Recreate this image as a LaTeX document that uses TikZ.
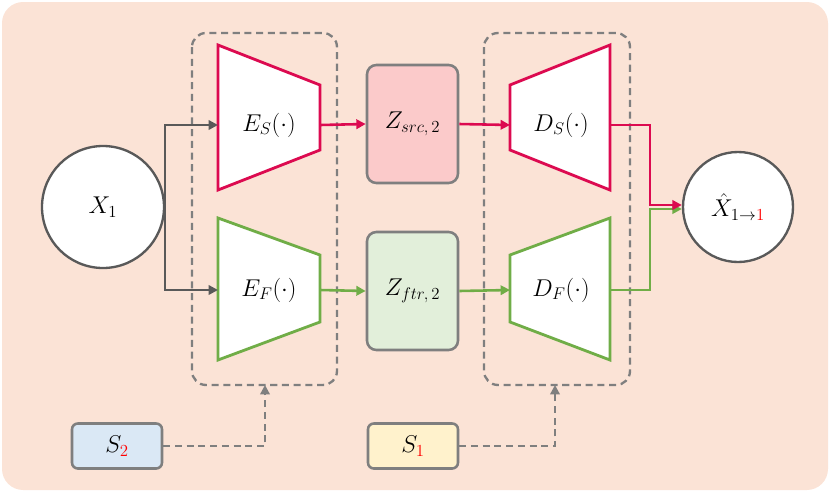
\documentclass[tikz,border=0pt]{standalone}
\usepackage{xcolor}
\usetikzlibrary{arrows.meta}
\definecolor{bg}{HTML}{FBE3D6}
\definecolor{rd}{HTML}{DC0A50}
\definecolor{gn}{HTML}{70AD47}
\definecolor{gr}{HTML}{7F7F7F}
\definecolor{dk}{HTML}{595959}
\definecolor{zsf}{HTML}{FBCACA}
\definecolor{zff}{HTML}{E2EFDA}
\definecolor{s2f}{HTML}{DAE8F5}
\definecolor{s1f}{HTML}{FFF2CC}
\begin{document}
\begin{tikzpicture}[x=0.03cm,y=-0.03cm,
  bigf/.style={font=\fontsize{22}{26}\selectfont},
  circ/.style={circle,draw=dk,line width=2pt,fill=white,minimum size=#1*0.06cm,inner sep=0pt,bigf},
  zbox/.style={draw=gr,line width=2.2pt,rounded corners=8pt,bigf},
  dbox/.style={draw=gr,line width=2pt,dashed,dash pattern=on 6pt off 4pt,rounded corners=12pt},
  trap/.style={line width=2.4pt,fill=white},
  arr/.style={line width=2.2pt,-{Triangle[length=8pt,width=8pt]}},
  sarr/.style={line width=2.2pt,gr,dash pattern=on 6pt off 4pt,-{Triangle[length=8pt,width=8pt]}},
  sbox/.style={draw=gr,line width=2.2pt,rounded corners=5pt,minimum width=90*0.03cm,minimum height=45*0.03cm,bigf}]
\useasboundingbox (0,0) rectangle (830,492);
\fill[bg,rounded corners=18pt] (2,2) rectangle (828,490);
\draw[dbox] (192,33) rectangle (337,385);
\draw[dbox] (484,33) rectangle (630,385);
\coordinate (lb) at (265,385); \coordinate (rb) at (555,385);
% trapezoids
\draw[trap,draw=rd] (218,45) -- (320,85) -- (320,150) -- (218,190) -- cycle;
\node[bigf] (es) at (269,125) {$E_S(\cdot)$};
\draw[trap,draw=gn] (218,218) -- (320,255) -- (320,322) -- (218,360) -- cycle;
\node[bigf] (ef) at (269,290) {$E_F(\cdot)$};
\draw[trap,draw=rd] (510,85) -- (610,45) -- (610,190) -- (510,150) -- cycle;
\node[bigf] (ds) at (561,125) {$D_S(\cdot)$};
\draw[trap,draw=gn] (510,255) -- (610,218) -- (610,360) -- (510,322) -- cycle;
\node[bigf] (df) at (561,290) {$D_F(\cdot)$};
\coordinate (esr) at (320,125); \coordinate (esl) at (218,125);
\coordinate (efr) at (320,290); \coordinate (efl) at (218,290);
\coordinate (dsl) at (510,125); \coordinate (dsr) at (610,125);
\coordinate (dfl) at (510,290); \coordinate (dfr) at (610,290);
% z boxes
\node[zbox,fill=zsf,minimum width=91*0.03cm,minimum height=118*0.03cm] (zs) at (412.5,124) {$Z_{src,\,2}$};
\node[zbox,fill=zff,minimum width=91*0.03cm,minimum height=118*0.03cm] (zf) at (412.5,291) {$Z_{ftr,\,2}$};
% circles
\node[circ=61] (x) at (103,207) {$X_1$};
\node[circ=55] (y) at (738,207) {$\hat{X}_{1\to\textcolor{red}{1}}$};
% s boxes
\node[sbox,fill=s2f] (s2) at (117,446) {$S_{\textcolor{red}{2}}$};
\node[sbox,fill=s1f] (s1) at (413,446) {$S_{\textcolor{red}{1}}$};
% arrows
\draw[dk,line width=2.2pt] (x.east) -- (165,207);
\draw[arr,dk] (165,207) |- (esl);
\draw[arr,dk] (165,207) |- (efl);
\draw[arr,rd] (esr) -- (zs.west);
\draw[arr,rd] (zs.east) -- (dsl);
\draw[arr,gn] (efr) -- (zf.west);
\draw[arr,gn] (zf.east) -- (dfl);
\draw[arr,gn] (dfr) -- (650,290) -- (650,209) -- (y.west|-0,209);
\draw[arr,rd] (dsr) -- (650,125) -- (650,205) -- (y.west|-0,205);
\draw[sarr] (s2.east) -| (lb);
\draw[sarr] (s1.east) -| (rb);
\end{tikzpicture}
\end{document}
